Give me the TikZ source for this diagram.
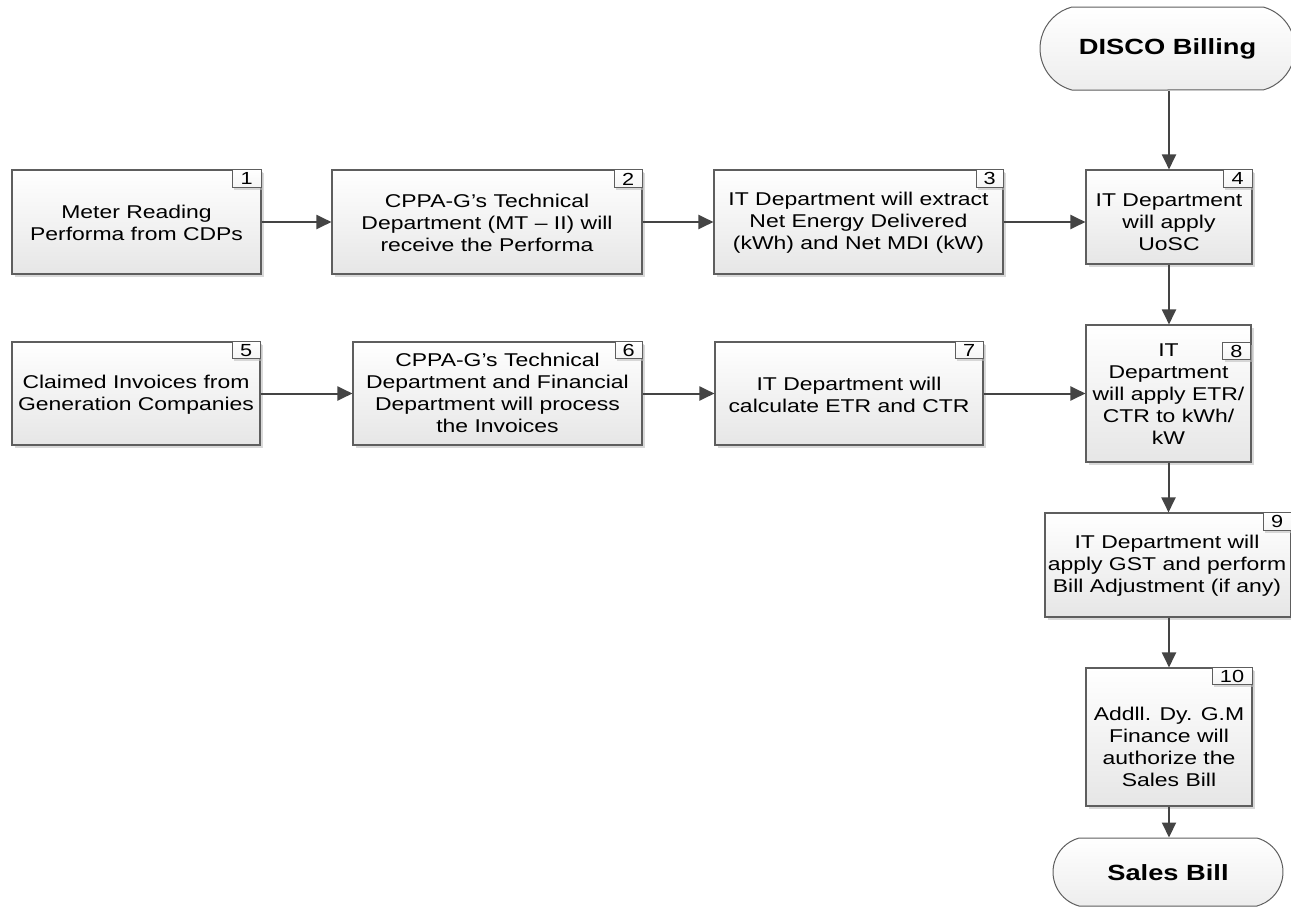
\documentclass[tikz,border=0pt]{standalone}
\usepackage{fontspec}
\setmainfont{Liberation Sans}[FakeStretch=1.24]
\usetikzlibrary{arrows.meta,shapes.misc,shadows}

\definecolor{boxline}{HTML}{5E5E5E}
\definecolor{wire}{HTML}{444444}
\definecolor{shade}{HTML}{E6E6E6}

\tikzset{
  stepbox/.style={draw=boxline, line width=1.1pt, top color=white, bottom color=shade,
    inner sep=0pt,
    drop shadow={shadow xshift=2.5pt, shadow yshift=-2.5pt, fill=black!25, opacity=0.6}},
  numtag/.style={draw=boxline, line width=1pt, top color=white, bottom color=black!4,
    inner sep=0pt, minimum height=18pt, anchor=north east,
    font=\fontsize{17.5}{18}\selectfont,
    drop shadow={shadow xshift=2pt, shadow yshift=-2pt, fill=black!25, opacity=0.6}},
  steptext/.style={align=center, inner sep=0pt, font=\fontsize{18.5}{22}\selectfont},
  termbox/.style={rounded rectangle, rounded rectangle arc length=150,
    draw=boxline, line width=1pt,
    top color=white, bottom color=black!7, inner sep=0pt},
  termtext/.style={inner sep=0pt, font=\fontsize{22}{24}\selectfont\bfseries},
  flow/.style={draw=wire, line width=2pt, -{Triangle[length=15pt,width=14pt]}}
}

\begin{document}
\begin{tikzpicture}[x=1pt,y=-1pt]
\useasboundingbox (0,0) rectangle (1291,908);
\clip (0,0) rectangle (1291,908);

% terminators
\node[termbox, minimum width=255pt, minimum height=83pt] (disco) at (1167.5,48.5) {};
\node[termtext] (discot) at (1167.5,49) {DISCO Billing};
\node[termbox, minimum width=230pt, minimum height=68pt] (sales) at (1168,872) {};
\node[termtext] (salest) at (1168,873) {Sales Bill};

% process boxes, first row
\node[stepbox, minimum width=249pt, minimum height=104pt] (b1) at (136.5,222) {};
\node[stepbox, minimum width=310pt, minimum height=104pt] (b2) at (487,222) {};
\node[stepbox, minimum width=289pt, minimum height=104pt] (b3) at (858.5,222) {};
\node[stepbox, minimum width=166pt, minimum height=94pt]  (b4) at (1169,217) {};

% process boxes, second row
\node[stepbox, minimum width=248pt, minimum height=103pt] (b5) at (136,393.5) {};
\node[stepbox, minimum width=289pt, minimum height=103pt] (b6) at (497.5,393.5) {};
\node[stepbox, minimum width=268pt, minimum height=103pt] (b7) at (849,393.5) {};
\node[stepbox, minimum width=165pt, minimum height=137pt] (b8) at (1168.5,393.5) {};

% right column
\node[stepbox, minimum width=246pt, minimum height=104pt] (b9)  at (1168,565) {};
\node[stepbox, minimum width=166pt, minimum height=138pt] (b10) at (1169,737) {};

% step numbers
\node[numtag, minimum width=29pt] (n1) at (b1.north east) {1};
\node[numtag, minimum width=28pt] (n2) at (b2.north east) {2};
\node[numtag, minimum width=27pt] (n3) at (b3.north east) {3};
\node[numtag, minimum width=29pt] (n4) at (b4.north east) {4};
\node[numtag, minimum width=28pt, minimum height=17pt] (n5) at (b5.north east) {5};
\node[numtag, minimum width=27pt, minimum height=17pt] (n6) at (b6.north east) {6};
\node[numtag, minimum width=28pt, minimum height=17pt] (n7) at (b7.north east) {7};
\node[numtag, minimum width=28pt, minimum height=17pt] (n8) at (1251,342) {8};
\node[numtag, minimum width=28pt] (n9) at (b9.north east) {9};
\node[numtag, minimum width=40pt, minimum height=17pt] (n10) at (b10.north east) {10};

% step texts
\node[steptext] (t1) at (136.5,223) {Meter Reading\\Performa from CDPs};
\node[steptext] (t2) at (487,223) {CPPA-G’s Technical\\Department (MT – II) will\\receive the Performa};
\node[steptext] (t3) at (858.5,223) {IT Department will extract\\Net Energy Delivered\\(kWh) and Net MDI (kW)};
\node[steptext] (t4) at (1169,222) {IT Department\\will apply\\UoSC};
\node[steptext] (t5) at (136,394.5) {Claimed Invoices from\\Generation Companies};
\node[steptext] (t6) at (497.5,393) {CPPA-G’s Technical\\Department and Financial\\Department will process\\the Invoices};
\node[steptext] (t7) at (849,394.5) {IT Department will\\calculate ETR and CTR};
\node[steptext] (t8) at (1168.5,394) {IT\\Department\\will apply ETR/\\CTR to kWh/\\kW};
\node[steptext] (t9) at (1167,566) {IT Department will\\apply GST and perform\\Bill Adjustment (if any)};
\node[steptext] (t10) at (1169,747) {Addll. Dy. G.M\\Finance will\\authorize the\\Sales Bill};

% connectors
\draw[flow] (b1.east) -- (b2.west);
\draw[flow] (b2.east) -- (b3.west);
\draw[flow] (b3.east) -- (b3.east -| b4.west);
\draw[flow] (b4.north |- disco.south) -- (b4.north);
\draw[flow] (b4.south) -- (b4.south |- b8.north);
\draw[flow] (b5.east) -- (b6.west);
\draw[flow] (b6.east) -- (b7.west);
\draw[flow] (b7.east) -- (b8.west);
\draw[flow] (b8.south) -- (b8.south |- b9.north);
\draw[flow] (b10.north |- b9.south) -- (b10.north);
\draw[flow] (b10.south) -- (b10.south |- sales.north);
\end{tikzpicture}
\end{document}
